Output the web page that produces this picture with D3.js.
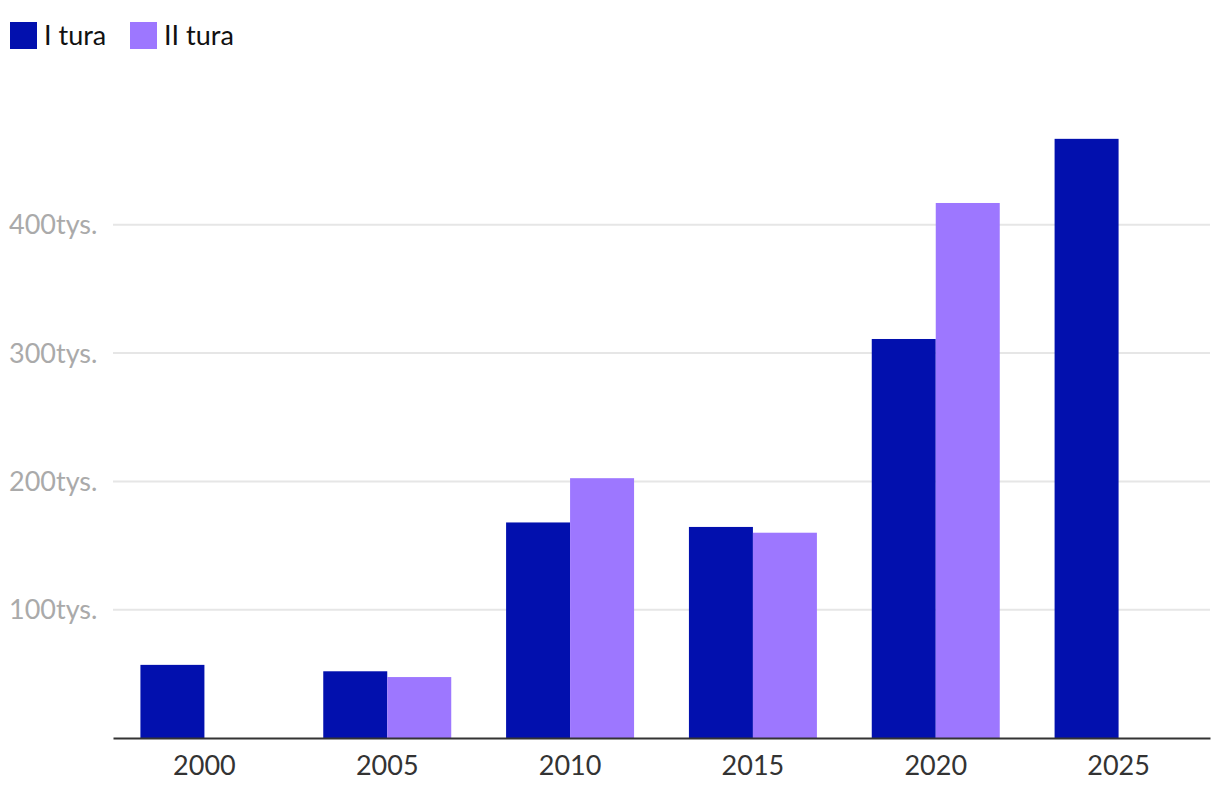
<!DOCTYPE html>
<html>
<head>
<meta charset="utf-8">
<script src="https://cdn.jsdelivr.net/npm/d3@7"></script>
<style>
  body { margin: 0; background: #fff; font-family: Lato, sans-serif; }
</style>
</head>
<body>
<div id="chart"></div>
<script>
const years = ["2000", "2005", "2010", "2015", "2020", "2025"];
const series = ["I tura", "II tura"];
const tura1 = [57000, 52000, 168000, 164500, 311000, 467000];
const tura2 = [null, 47500, 202500, 160000, 417000, null];
const yTicks = [100000, 200000, 300000, 400000];
const colors = ["#0210ae", "#9d77ff"];

const w = 1220;
const h = 800;
const m = { top: 96, right: 10, bottom: 62, left: 113 };

const svg = d3.select("#chart").append("svg").attr("width", w).attr("height", h);

// Escalas
const x = d3.scaleBand().domain(years).range([m.left, w - m.right]).paddingInner(0.3).paddingOuter(0.15);
const x1 = d3.scaleBand().domain(series).range([0, x.bandwidth()]);
const y = d3.scaleLinear().domain([0, 500000]).range([h - m.bottom, h - m.bottom - 500000 * 128.3 / 100000]);

// Rejilla
svg.append("g")
  .selectAll("line")
  .data(yTicks)
  .join("line")
  .attr("x1", m.left)
  .attr("x2", w - m.right)
  .attr("y1", (d) => y(d))
  .attr("y2", (d) => y(d))
  .attr("stroke", "#e6e6e6")
  .attr("stroke-width", 2);

svg.append("g")
  .selectAll("text")
  .data(yTicks)
  .join("text")
  .attr("x", 9)
  .attr("y", (d) => y(d))
  .attr("dy", "0.35em")
  .attr("fill", "#aaaaaa")
  .attr("font-size", 27)
  .text((d) => d / 1000 + "tys.");

// Barras
const rows = years.map((yr, i) => ({ year: yr, vals: [tura1[i], tura2[i]] }));
svg.append("g")
  .selectAll("g")
  .data(rows)
  .join("g")
  .attr("transform", (d) => `translate(${x(d.year)},0)`)
  .selectAll("rect")
  .data((d) => d.vals.map((v, j) => ({ s: series[j], v, j })).filter((e) => e.v != null))
  .join("rect")
  .attr("x", (d) => x1(d.s))
  .attr("y", (d) => y(d.v))
  .attr("width", x1.bandwidth())
  .attr("height", (d) => y(0) - y(d.v))
  .attr("fill", (d) => colors[d.j]);

// Eje X
const xAxis = svg.append("g")
  .attr("transform", `translate(0,${y(0)})`)
  .call(d3.axisBottom(x).tickSize(0).tickPadding(18));
xAxis.select(".domain").attr("stroke", "#333").attr("stroke-width", 2);
xAxis.selectAll("text").attr("font-family", "Lato, sans-serif").attr("font-size", 27).attr("fill", "#333");

// Leyenda
const legend = svg.append("g").attr("transform", "translate(10,22)");
const items = legend.selectAll("g").data(series).join("g")
  .attr("transform", (d, i) => `translate(${i === 0 ? 0 : 120},0)`);
items.append("rect").attr("width", 27).attr("height", 27).attr("fill", (d, i) => colors[i]);
items.append("text")
  .attr("x", 34)
  .attr("y", 14)
  .attr("dy", "0.35em")
  .attr("font-size", 27)
  .attr("fill", "#111")
  .text((d) => d);
</script>
</body>
</html>
